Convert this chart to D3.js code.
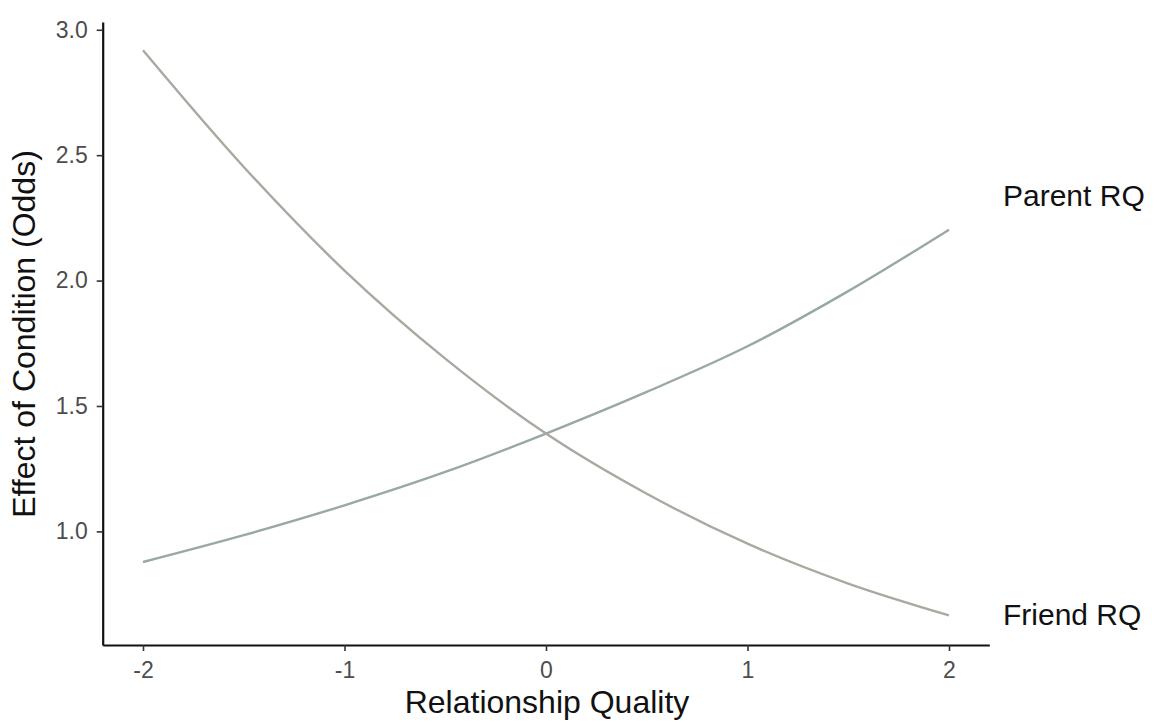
<!DOCTYPE html>
<html>
<head>
<meta charset="utf-8">
<script src="https://cdn.jsdelivr.net/npm/d3@7"></script>
<style>
  html, body { margin: 0; padding: 0; background: #ffffff; }
  svg { display: block; }
  text { font-family: "Liberation Sans", Arial, Helvetica, sans-serif; }
</style>
</head>
<body>
<svg id="chart" width="1157" height="724"></svg>
<script>
// Relationship quality (standardised) at which the effect is evaluated
const rqValues = [-2, -1.5, -1, -0.5, 0, 0.5, 1, 1.5, 2];
// Effect of condition (odds) for each moderator
const parentOdds = [0.878, 0.985, 1.104, 1.237, 1.390, 1.556, 1.738, 1.958, 2.203];
const friendOdds = [2.918, 2.453, 2.040, 1.689, 1.390, 1.150, 0.951, 0.792, 0.665];
const seriesNames = ["Parent RQ", "Friend RQ"];
const xTicks = [-2, -1, 0, 1, 2];
const yTicks = [1.0, 1.5, 2.0, 2.5, 3.0];

const svg = d3.select("#chart");

const x = d3.scaleLinear().domain([-2.2, 2.2]).range([102.7, 989.3]);
const y = d3.scaleLinear().domain([0.547, 3.031]).range([645, 22]);

const series = [
  { name: seriesNames[0], values: parentOdds, color: "#97a8a5", labelDy: -24 },
  { name: seriesNames[1], values: friendOdds, color: "#a8a99f", labelDy: 10 }
];

const line = d3.line()
  .x(d => x(d[0]))
  .y(d => y(d[1]))
  .curve(d3.curveCatmullRom.alpha(0.5));

svg.append("g")
  .selectAll("path")
  .data(series)
  .join("path")
  .attr("fill", "none")
  .attr("stroke", d => d.color)
  .attr("stroke-width", 2.4)
  .attr("d", d => line(rqValues.map((r, i) => [r, d.values[i]])));

// Series labels placed beside the right end of each curve
svg.append("g")
  .selectAll("text")
  .data(series)
  .join("text")
  .attr("x", 1003)
  .attr("y", d => y(d.values[d.values.length - 1]))
  .attr("dy", d => d.labelDy)
  .attr("font-size", 30)
  .attr("fill", "#111")
  .text(d => d.name);

// Axes
const xAxis = svg.append("g")
  .attr("transform", "translate(0,645)")
  .call(d3.axisBottom(x).tickValues(xTicks).tickFormat(d3.format("d"))
    .tickSizeInner(6).tickSizeOuter(0).tickPadding(11));
const yAxis = svg.append("g")
  .attr("transform", "translate(102.7,0)")
  .call(d3.axisLeft(y).tickValues(yTicks).tickFormat(d3.format(".1f"))
    .tickSizeInner(6).tickSizeOuter(0).tickPadding(9));

[xAxis, yAxis].forEach(g => {
  g.select(".domain").attr("stroke", "#111").attr("stroke-width", 2.2);
  g.selectAll(".tick line").attr("stroke", "#333").attr("stroke-width", 1.6);
  g.selectAll(".tick text")
    .attr("fill", "#4d4d4d")
    .attr("font-size", 23)
    .attr("font-family", "\"Liberation Sans\", Arial, sans-serif");
});
xAxis.selectAll(".tick text").text(d => d < 0 ? "-" + Math.abs(d) : d);

// Axis titles
svg.append("text")
  .attr("x", 547)
  .attr("y", 713)
  .attr("text-anchor", "middle")
  .attr("font-size", 32)
  .attr("fill", "#111")
  .text("Relationship Quality");

svg.append("text")
  .attr("transform", "translate(35,334) rotate(-90)")
  .attr("text-anchor", "middle")
  .attr("font-size", 32)
  .attr("fill", "#111")
  .text("Effect of Condition (Odds)");
</script>
</body>
</html>
